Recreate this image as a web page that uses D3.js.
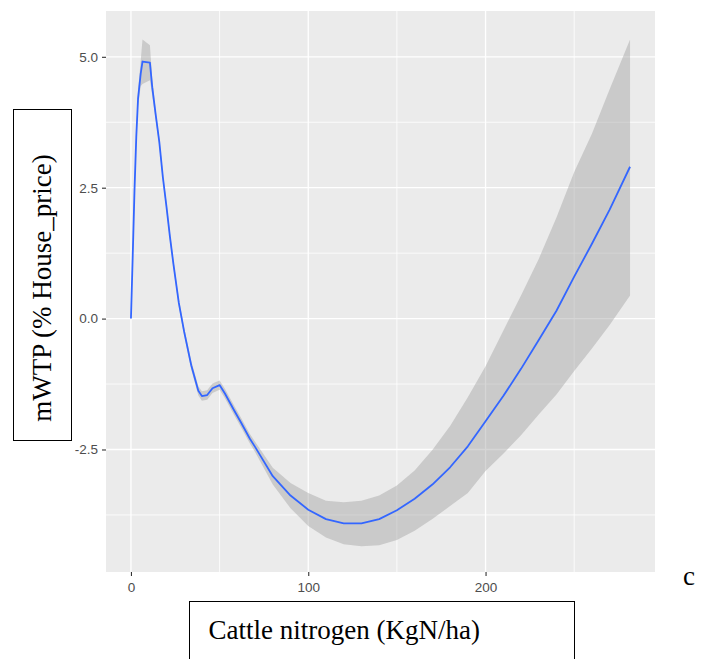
<!DOCTYPE html>
<html lang="en">
<head>
<script src='https://d3js.org/d3.v7.min.js'></script>
<title>mWTP and cattle nitrogen</title>
<meta charset="UTF-8">
<style>
body{
	margin: 0;
	background: #ffffff;
}

.axis .tick text{
	font-family: "Liberation Sans", Arial, sans-serif;
	font-size: 13.5px;
	fill: #4d4d4d;
}

.axis .tick line{
	stroke: #333333;
	stroke-width: 1.1px;
}

.axis .domain{
	display: none;
}

.boxlabel{
	font-family: "Liberation Serif", "Times New Roman", serif;
	font-size: 27px;
	fill: #000000;
}
</style>
</head>
<body>

<div id="chart"></div>

<script>
// values (x = cattle nitrogen, y = mWTP in % of house price)
const nitrogen = [0, 0.5, 1, 2, 3, 4, 5.5, 6.5, 10.7, 12,
                  14, 16, 18, 20, 22, 24, 27, 30, 34, 38,
                  40, 43, 46, 50, 53, 58, 62, 67, 70, 80,
                  90, 100, 110, 120, 130, 140, 150, 160, 170, 180,
                  190, 200, 210, 220, 230, 240, 250, 260, 270, 281.5];

const mwtp = [0, 0.6, 1.2, 2.45, 3.47, 4.2, 4.68, 4.91, 4.89, 4.42,
              3.88, 3.37, 2.7, 2.15, 1.56, 1.03, 0.3, -0.25, -0.89, -1.38,
              -1.48, -1.46, -1.33, -1.27, -1.43, -1.74, -1.98, -2.29, -2.45, -3.01,
              -3.38, -3.65, -3.83, -3.91, -3.91, -3.83, -3.66, -3.44, -3.17, -2.84,
              -2.44, -1.96, -1.48, -0.96, -0.41, 0.15, 0.8, 1.43, 2.08, 2.9];

// confidence band
const upper = [0.05, 0.68, 1.3, 2.57, 3.6, 4.35, 4.92, 5.33, 5.22, 4.58,
               3.97, 3.45, 2.78, 2.23, 1.64, 1.11, 0.38, -0.17, -0.81, -1.29,
               -1.39, -1.37, -1.24, -1.18, -1.34, -1.65, -1.89, -2.2, -2.35, -2.85,
               -3.14, -3.33, -3.48, -3.51, -3.48, -3.38, -3.19, -2.9, -2.51, -2.05,
               -1.5, -0.91, -0.23, 0.44, 1.14, 1.93, 2.8, 3.53, 4.38, 5.33];

const lower = [-0.05, 0.52, 1.1, 2.33, 3.34, 4.05, 4.44, 4.48, 4.55, 4.26,
               3.79, 3.29, 2.62, 2.07, 1.48, 0.95, 0.22, -0.33, -0.97, -1.47,
               -1.57, -1.55, -1.42, -1.36, -1.52, -1.83, -2.07, -2.38, -2.55, -3.17,
               -3.62, -3.96, -4.18, -4.31, -4.35, -4.33, -4.23, -4.05, -3.83, -3.58,
               -3.33, -2.91, -2.58, -2.23, -1.83, -1.45, -1.0, -0.57, -0.12, 0.44];

const xTicks = [0, 100, 200];
const xMinor = [50, 150, 250];
const yTicks = [-2.5, 0, 2.5, 5];
const yMinor = [-3.75, -1.25, 1.25, 3.75];
// visible y range of the panel
const yLimits = [-4.84, 5.875];

const yTitle = "mWTP (% House_price)";
const xTitle = "Cattle nitrogen (KgN/ha)";
const panelTag = "c";

const width = 716;
const height = 659;

// plot panel edges
const panel = { left: 106, right: 655, top: 11, bottom: 572 };

// ggplot style 5% expansion around the data
function expand(lo, hi) {
  const pad = (hi - lo) * 0.05;
  return [lo - pad, hi + pad];
}

const nodes = nitrogen.map((d, i) => ({ x: d, fit: mwtp[i], hi: upper[i], lo: lower[i] }));

const x = d3.scaleLinear()
  .domain(expand(d3.min(nitrogen), d3.max(nitrogen)))
  .range([panel.left, panel.right]);

const y = d3.scaleLinear()
  .domain(yLimits)
  .range([panel.bottom, panel.top]);

const svg = d3.select('#chart')
  .append('svg')
  .attr('width', width)
  .attr('height', height);

// grey panel
svg.append('rect')
  .attr('x', panel.left)
  .attr('y', panel.top)
  .attr('width', panel.right - panel.left)
  .attr('height', panel.bottom - panel.top)
  .attr('fill', '#ebebeb');

// minor grid first, then major on top
const grid = svg.append('g');

grid.selectAll('.vminor')
  .data(xMinor)
  .enter()
  .append('line')
  .attr('x1', d => x(d)).attr('x2', d => x(d))
  .attr('y1', panel.top).attr('y2', panel.bottom)
  .attr('stroke', '#ffffff').attr('stroke-width', 0.8);

grid.selectAll('.hminor')
  .data(yMinor)
  .enter()
  .append('line')
  .attr('x1', panel.left).attr('x2', panel.right)
  .attr('y1', d => y(d)).attr('y2', d => y(d))
  .attr('stroke', '#ffffff').attr('stroke-width', 0.8);

grid.selectAll('.vmajor')
  .data(xTicks)
  .enter()
  .append('line')
  .attr('x1', d => x(d)).attr('x2', d => x(d))
  .attr('y1', panel.top).attr('y2', panel.bottom)
  .attr('stroke', '#ffffff').attr('stroke-width', 1.3);

grid.selectAll('.hmajor')
  .data(yTicks)
  .enter()
  .append('line')
  .attr('x1', panel.left).attr('x2', panel.right)
  .attr('y1', d => y(d)).attr('y2', d => y(d))
  .attr('stroke', '#ffffff').attr('stroke-width', 1.3);

// confidence ribbon
const band = d3.area()
  .x(d => x(d.x))
  .y0(d => y(d.lo))
  .y1(d => y(d.hi));

svg.append('path')
  .datum(nodes)
  .attr('d', band)
  .attr('fill', '#999999')
  .attr('fill-opacity', 0.4);

// smoothed line
const line = d3.line()
  .x(d => x(d.x))
  .y(d => y(d.fit));

svg.append('path')
  .datum(nodes)
  .attr('d', line)
  .attr('fill', 'none')
  .attr('stroke', '#3366ff')
  .attr('stroke-width', 1.8)
  .attr('stroke-linejoin', 'round');

// axes
svg.append('g')
  .attr('class', 'axis')
  .attr('transform', 'translate(0,' + panel.bottom + ')')
  .call(d3.axisBottom(x).tickValues(xTicks).tickSize(4).tickPadding(6).tickFormat(d => d));

svg.append('g')
  .attr('class', 'axis')
  .attr('transform', 'translate(' + panel.left + ',0)')
  .call(d3.axisLeft(y).tickValues(yTicks).tickSize(4).tickPadding(4).tickFormat(d => d.toFixed(1)));

// boxed axis titles
svg.append('rect')
  .attr('x', 13.5).attr('y', 109.5)
  .attr('width', 58).attr('height', 331)
  .attr('fill', 'none').attr('stroke', '#000000').attr('stroke-width', 1);

svg.append('text')
  .attr('class', 'boxlabel')
  .attr('transform', 'translate(51,288) rotate(-90)')
  .style('text-anchor', 'middle')
  .text(yTitle);

svg.append('rect')
  .attr('x', 189.5).attr('y', 601.5)
  .attr('width', 385).attr('height', 80)
  .attr('fill', 'none').attr('stroke', '#000000').attr('stroke-width', 1);

svg.append('text')
  .attr('class', 'boxlabel')
  .attr('x', 208.5).attr('y', 638.5)
  .text(xTitle);

svg.append('text')
  .attr('class', 'boxlabel')
  .attr('x', 683).attr('y', 585)
  .text(panelTag);
</script>

</body>
</html>
